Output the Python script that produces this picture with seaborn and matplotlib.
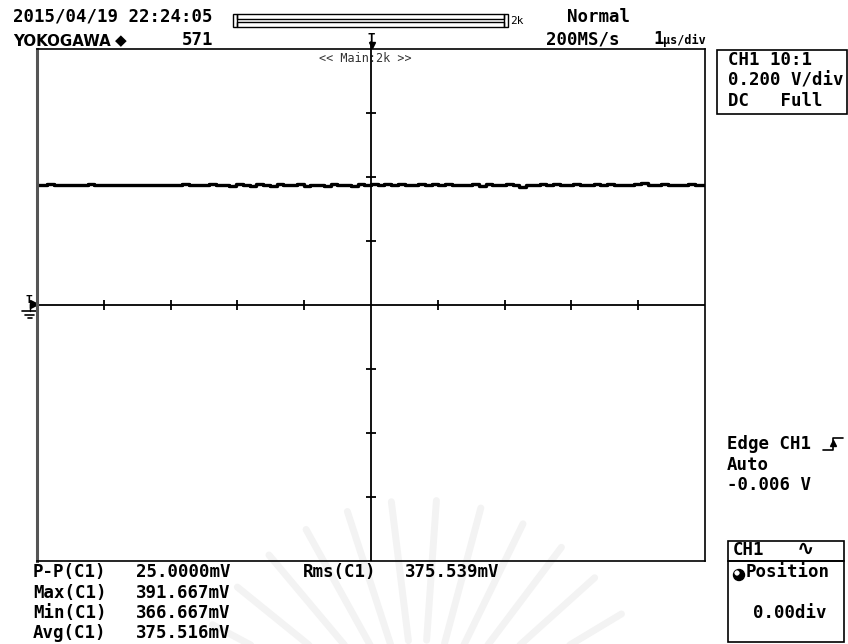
import numpy as np
import pandas as pd
import matplotlib
matplotlib.use("Agg")
import matplotlib.pyplot as plt
import seaborn as sns
from matplotlib.patches import Rectangle, Circle

# ---- values ----
time_range_us = [-5, 5]          # 1 us/div, 10 div
volt_range = [-0.8, 0.8]         # 0.200 V/div, 8 div
x_div_ticks = [-4, -3, -2, -1, 1, 2, 3, 4]
y_div_ticks = [-0.6, -0.4, -0.2, 0.2, 0.4, 0.6]

# CH1 trace in mV, left to right across the screen
trace_mv = [
    376, 376, 377, 376, 376, 375, 376, 376, 377, 376,
    376, 376, 375, 376, 376, 376, 375, 376, 376, 375,
    376, 376, 377, 375, 376, 374, 377, 375, 376, 372,
    378, 375, 373, 377, 376, 372, 379, 375, 374, 377,
    371, 376, 375, 373, 378, 376, 374, 371, 377, 375,
    379, 376, 377, 374, 378, 375, 376, 378, 374, 379,
    376, 377, 374, 376, 375, 378, 373, 377, 376, 374,
    378, 375, 370, 376, 376, 379, 375, 377, 374, 376,
    377, 376, 374, 377, 375, 378, 376, 376, 374, 377,
    380, 376, 375, 377, 376, 376, 375, 377, 376, 376,
]

meas_names = ["P-P(C1)", "Max(C1)", "Min(C1)", "Avg(C1)"]
meas_values = ["25.0000mV", "391.667mV", "366.667mV", "375.516mV"]
rms_name = "Rms(C1)"
rms_value = "375.539mV"

ch_setup = ["CH1 10:1", "0.200 V/div", "DC   Full"]
trig_setup = ["Edge CH1", "Auto", "-0.006 V"]

df = pd.DataFrame({
    "t": np.linspace(time_range_us[0], time_range_us[1], len(trace_mv)),
    "v": np.array(trace_mv) / 1000.0,
})

sns.set_style("white")
plt.rcParams["font.family"] = ["DejaVu Sans Mono", "DejaVu Sans"]
MONO = ["DejaVu Sans Mono", "DejaVu Sans"]

W, H = 848, 644
fig = plt.figure(figsize=(W / 100, H / 100), dpi=100)
fig.patch.set_facecolor("white")

# overlay in pixel coordinates for all the screen furniture
ov = fig.add_axes([0, 0, 1, 1], zorder=0)
ov.set_xlim(0, W)
ov.set_ylim(H, 0)
ov.axis("off")

# faint watermark rays
cx, cy = 420, 735
for ang in range(20, 165, 11):
    a = np.deg2rad(ang)
    ov.plot([cx + 95 * np.cos(a), cx + 235 * np.cos(a)],
            [cy - 95 * np.sin(a), cy - 235 * np.sin(a)],
            color="#f3f3f3", lw=5, solid_capstyle="round", zorder=0)

# main graticule axes
ax = fig.add_axes([37 / W, 1 - 561 / H, 668 / W, 512 / H], zorder=1)
ax.patch.set_alpha(0)
sns.lineplot(data=df, x="t", y="v", ax=ax, color="black", lw=2.4,
             drawstyle="steps-mid")
ax.set_xlim(*time_range_us)
ax.set_ylim(*volt_range)
ax.axhline(0, color="black", lw=1.3)
ax.axvline(0, color="black", lw=1.3)
ax.plot(x_div_ticks, [0] * len(x_div_ticks), ls="none", marker="|",
        ms=7, mew=1.3, color="black")
ax.plot([0] * len(y_div_ticks), y_div_ticks, ls="none", marker="_",
        ms=7, mew=1.3, color="black")
ax.set_xticks([])
ax.set_yticks([])
ax.set_xlabel("")
ax.set_ylabel("")
for side in ["top", "right", "bottom"]:
    ax.spines[side].set_color("black")
    ax.spines[side].set_linewidth(1.2)
ax.spines["left"].set_color("#555555")
ax.spines["left"].set_linewidth(2.2)


def txt(x, y, s, size=12.5, weight="bold", ha="left", color="black", fam=MONO):
    ov.text(x, y, s, fontsize=size, fontweight=weight, ha=ha, va="center",
            color=color, family=fam)


# header
txt(13, 16.5, "2015/04/19 22:24:05")
txt(13, 41, "YOKOGAWA", size=10.8, fam=["DejaVu Sans"])
txt(121, 41, "\u25c6", size=11, ha="center", fam=["DejaVu Sans"])
txt(213, 40, "571", ha="right")
txt(567, 16.5, "Normal")
txt(546, 39, "200MS/s")
txt(653, 39, "1", size=12.5)
txt(663, 40, "\u00b5s/div", size=8.5)

# memory bar
ov.add_patch(Rectangle((233, 14), 4, 13, fill=False, ec="black", lw=1))
ov.add_patch(Rectangle((237, 14), 267, 5, fill=False, ec="black", lw=1))
ov.add_patch(Rectangle((237, 21.5), 267, 5, fill=False, ec="black", lw=1))
ov.add_patch(Rectangle((504, 14), 4, 13, fill=False, ec="black", lw=1))
txt(510, 21, "2k", size=8, weight="normal")

# trigger position marker on top
ov.plot([371, 371], [42, 49], color="black", lw=1.3)
txt(368, 38, "T", size=9)
ov.plot([371.5], [45], marker="v", ms=5, color="black", ls="none")
txt(365, 58, "<< Main:2k >>", size=8.5, weight="normal", ha="center",
    color="#333333")

# ground / trigger level marker on the left
txt(26, 300, "T", size=8)
ov.plot([34], [304], marker=">", ms=6, color="black", ls="none")
ov.plot([30, 30], [304, 311], color="black", lw=1)
ov.plot([22, 37], [311, 311], color="black", lw=1.2)
ov.plot([25, 34], [314.5, 314.5], color="black", lw=1.2)
ov.plot([28, 32], [318, 318], color="black", lw=1.2)

# channel setup box
ov.add_patch(Rectangle((717, 50), 130, 64, fill=False, ec="black", lw=1.2))
for i, s in enumerate(ch_setup):
    txt(728, 60 + 20.5 * i, s)

# trigger setup
for i, s in enumerate(trig_setup):
    txt(727, 444 + 20.5 * i, s)
ov.plot([823, 833, 833, 843], [450, 450, 438, 438], color="black", lw=1.2)
ov.plot([833], [443], marker="^", ms=4, color="black", ls="none")

# position box
ov.add_patch(Rectangle((728, 541), 116, 20, fill=False, ec="black", lw=1.2))
txt(733, 550, "CH1")
txt(797, 549, "\u223f", size=15, fam=["DejaVu Sans"])
ov.add_patch(Rectangle((728, 561), 116, 81, fill=False, ec="black", lw=1.2))
ov.add_patch(Circle((739, 575), 5.5, fc="black", ec="black", lw=1))
ov.add_patch(Circle((737, 573), 2.2, fc="white", ec="white", lw=0.5))
txt(746, 572, "Position")
txt(790, 613.5, "0.00div", ha="center")

# measurements
for i, (n, v) in enumerate(zip(meas_names, meas_values)):
    y = 572 + 20.5 * i
    txt(33, y, n)
    txt(136, y, v)
txt(303, 572, rms_name)
txt(405, 572, rms_value)

fig.savefig("out.png", dpi=100, facecolor="white")
